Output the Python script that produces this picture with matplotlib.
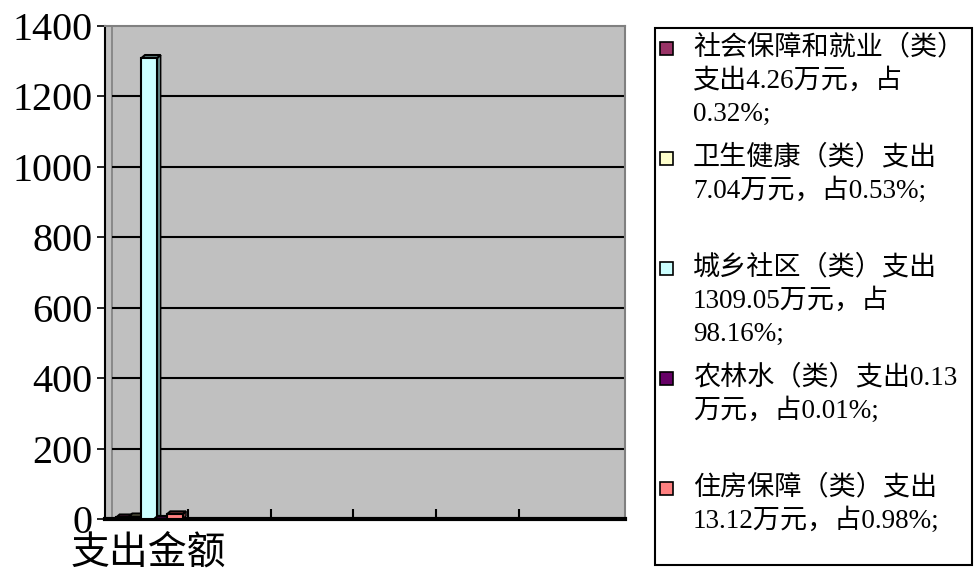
import matplotlib
matplotlib.use("Agg")
import matplotlib.pyplot as plt
from matplotlib.patches import Polygon, Rectangle

# ============================================================
# Data
# ============================================================

categories = ["社会保障和就业（类）", "卫生健康（类）", "城乡社区（类）", "农林水（类）", "住房保障（类）"]
values = [4.26, 7.04, 1309.05, 0.13, 13.12]
colors = ["#993366", "#FFFFCC", "#CCFFFF", "#660066", "#FF8080"]
side_colors = ["#4C1933", "#80805F", "#5F8080", "#330033", "#804040"]
legend_lines = [
    ["社会保障和就业（类）", "支出4.26万元，占", "0.32%;"],
    ["卫生健康（类）支出", "7.04万元，占0.53%;", ""],
    ["城乡社区（类）支出", "1309.05万元，占", "98.16%;"],
    ["农林水（类）支出0.13", "万元，占0.01%;", ""],
    ["住房保障（类）支出", "13.12万元，占0.98%;"],
]
x_label = "支出金额"
y_ticks = [0, 200, 400, 600, 800, 1000, 1200, 1400]

FONT = ["Liberation Serif", "Noto Sans CJK SC"]
W, H = 974, 576

# ============================================================
# Figure
# ============================================================

fig = plt.figure(figsize=(W / 100, H / 100), dpi=100)
ax = fig.add_axes([105 / W, 1 - 519 / H, 520 / W, 493 / H])
ax.set_facecolor("#C0C0C0")

x_max = 520 / 82.75
ax.set_xlim(0, x_max)
ax.set_ylim(0, 1400)

# depth of the faux 3D effect, in data units
dx = 3.5 / 82.75
dy = 3 * 1400 / 493

# back wall edge and gridlines
ax.axvline(0.08, color="#808080", linewidth=1.2, zorder=1)
ax.hlines(y_ticks[1:-1], 0.08, x_max, color="black", linewidth=1.5, zorder=1)

bar_w = 0.19
for i, (v, c, sc) in enumerate(zip(values, colors, side_colors)):
    xc = 0.23 + 0.153 * i
    x0, x1 = xc - bar_w / 2, xc + bar_w / 2
    side = Polygon([(x1, 0), (x1 + dx, dy), (x1 + dx, v + dy), (x1, v)],
                   closed=True, facecolor=sc, edgecolor="black", linewidth=1.0, zorder=2 + i)
    top = Polygon([(x0, v), (x0 + dx, v + dy), (x1 + dx, v + dy), (x1, v)],
                  closed=True, facecolor=sc, edgecolor="black", linewidth=1.5, zorder=2 + i)
    ax.add_patch(side)
    ax.add_patch(top)
    ax.bar(xc, v, width=bar_w, color=c, edgecolor="black", linewidth=1.5, zorder=2 + i)

# axes styling
for s in ["top", "right"]:
    ax.spines[s].set_color("#808080")
    ax.spines[s].set_linewidth(1.5)
ax.spines["left"].set_linewidth(1.5)
ax.spines["bottom"].set_linewidth(3)

ax.set_yticks(y_ticks)
ax.set_yticklabels([str(t) for t in y_ticks], fontfamily=FONT, fontsize=29)
ax.tick_params(axis="y", length=6, width=1.2, pad=3)

ax.set_xticks([0.52])
ax.set_xticklabels([x_label], fontfamily=FONT, fontsize=28, fontweight="light")
ax.tick_params(axis="x", which="major", length=0, pad=12)
ax.set_xticks([1, 2, 3, 4, 5], minor=True)
ax.tick_params(axis="x", which="minor", direction="in", length=7, width=1.5)

# ============================================================
# Legend (drawn by hand so markers sit on the first line)
# ============================================================

fig.patches.append(Rectangle((655 / W, 1 - 565 / H), 317 / W, 537 / H,
                             transform=fig.transFigure, facecolor="white",
                             edgecolor="black", linewidth=1.5))

line_h = 33
y = 48
for lines, c in zip(legend_lines, colors):
    fig.patches.append(Rectangle((660 / W, 1 - (y + 7) / H), 13 / W, 13 / H,
                                 transform=fig.transFigure, facecolor=c,
                                 edgecolor="black", linewidth=1.2))
    for j, line in enumerate(lines):
        fig.text(693 / W, 1 - (y + j * line_h) / H, line, fontfamily=FONT,
                 fontsize=19.5, ha="left", va="center")
    y += (len(lines) - 1) * line_h + 44

fig.savefig("out.png", dpi=100)
